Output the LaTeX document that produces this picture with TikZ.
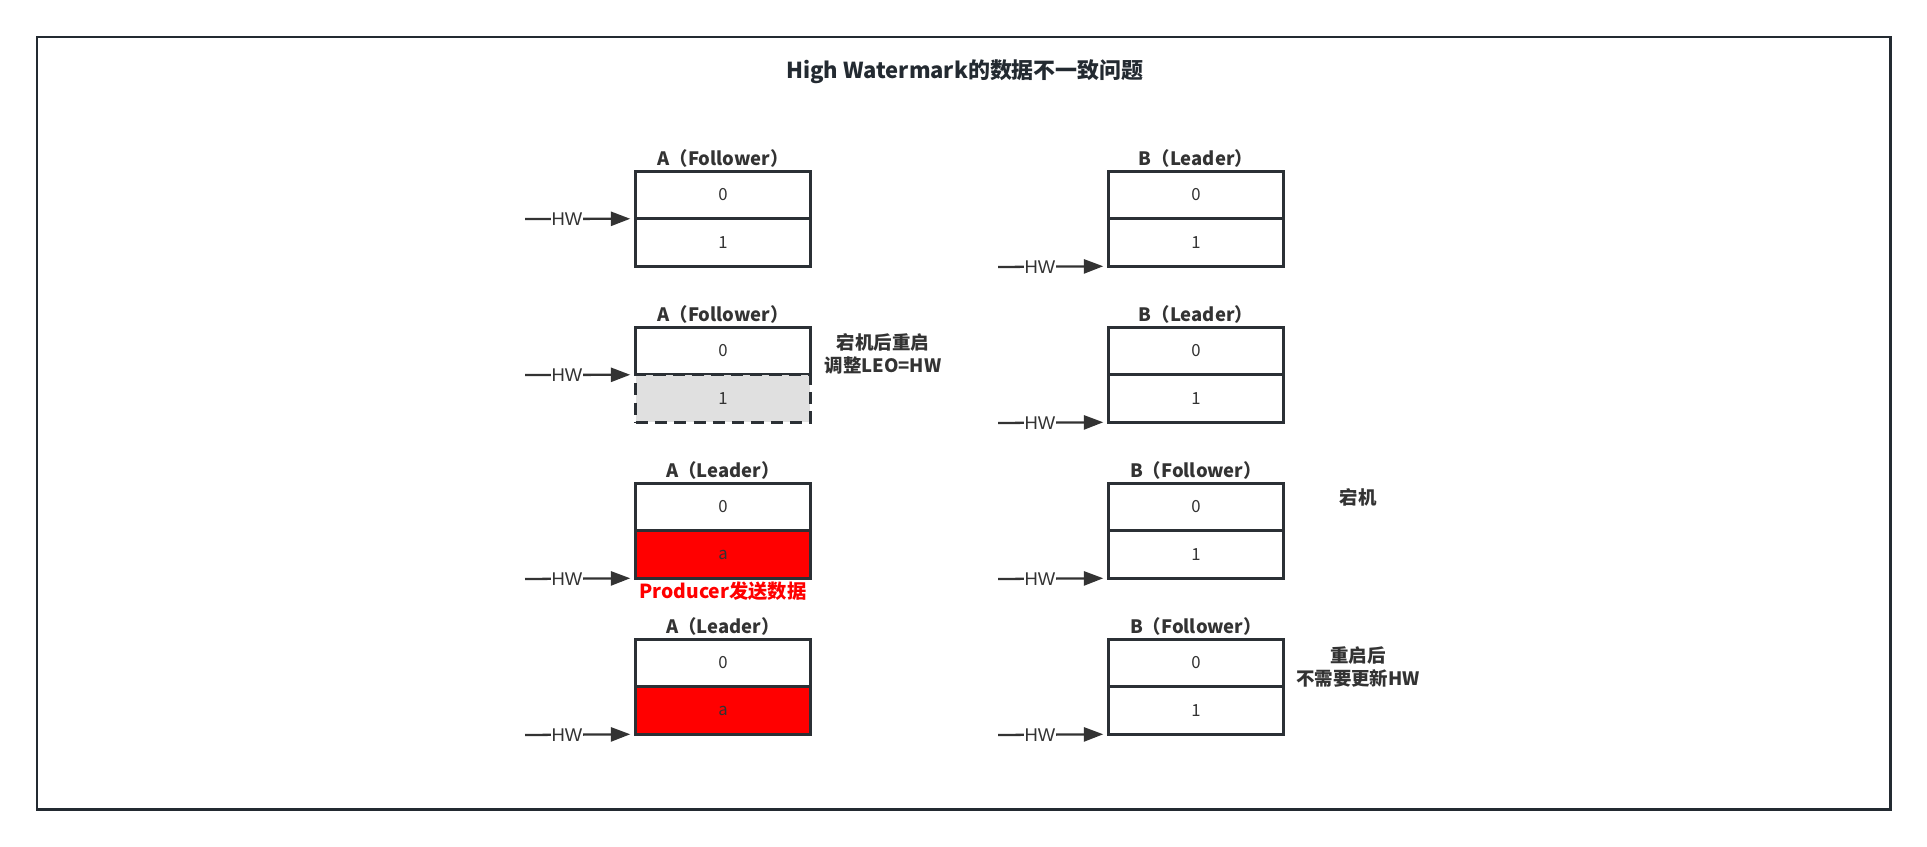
\documentclass[tikz,border=0pt]{standalone}
\usepackage{fontspec}
\setmainfont{Noto Sans CJK SC}
\newfontfamily\hwfont{Liberation Sans}
\usepackage{xcolor}
\usetikzlibrary{arrows.meta,positioning}

\definecolor{framecol}{HTML}{232A31}
\definecolor{linecol}{HTML}{2B3035}
\definecolor{textcol}{HTML}{333333}
\definecolor{deadcol}{HTML}{E0E0E0}
\definecolor{hotred}{HTML}{FF0000}

\begin{document}
\begin{tikzpicture}[x=0.02cm,y=-0.02cm,
  cell/.style={draw=linecol,line width=1.6pt,fill=white,outer sep=0pt,inner sep=0pt,
    minimum width=3.5cm,minimum height=0.95cm,font=\fontsize{9.5}{11}\selectfont,text=textcol},
  boxtitle/.style={font=\fontsize{10.5}{12}\selectfont\bfseries,text=textcol,inner sep=1pt},
  note/.style={font=\fontsize{10.5}{13.5}\selectfont\bfseries,text=textcol,align=center},
  hwline/.style={draw=textcol,line width=1.3pt,-{Triangle[length=11pt,width=8pt]},shorten >=3pt},
  hwtext/.style={fill=white,inner sep=0.5pt,font=\hwfont\fontsize{10.5}{12}\selectfont,text=textcol}]
\useasboundingbox (0,0) rectangle (1927,846);

% outer frame and title
\draw[framecol,line width=1.7pt] (37,37) rectangle (1890,809);
\node[font=\fontsize{12.5}{14}\selectfont\bfseries,text=framecol] (title) at (965,72) {High Watermark的数据不一致问题};

% A, step 1
\node[cell] (a1top) at (723,195) {0};
\node[cell,below=0pt of a1top] (a1bot) {1};
\node[boxtitle,above=1pt of a1top] (a1name) {A（Follower）};
% B, step 1
\node[cell] (b1top) at (1196,195) {0};
\node[cell,below=0pt of b1top] (b1bot) {1};
\node[boxtitle,above=1pt of b1top] (b1name) {B（Leader）};

% A, step 2
\node[cell] (a2top) at (723,351) {0};
\node[cell,below=0pt of a2top,fill=deadcol,dashed,dash pattern=on 7pt off 4pt] (a2bot) {1};
\node[boxtitle,above=1pt of a2top] (a2name) {A（Follower）};
\node[note] (a2note) at (883,354) {宕机后重启\\调整LEO=HW};
% B, step 2
\node[cell] (b2top) at (1196,351) {0};
\node[cell,below=0pt of b2top] (b2bot) {1};
\node[boxtitle,above=1pt of b2top] (b2name) {B（Leader）};

% A, step 3
\node[cell] (a3top) at (723,507) {0};
\node[cell,below=0pt of a3top,fill=hotred] (a3bot) {a};
\node[boxtitle,above=1pt of a3top] (a3name) {A（Leader）};
\node[boxtitle,text=hotred,font=\fontsize{11}{12}\selectfont\bfseries,below=1pt of a3bot] (a3note) {Producer发送数据};
% B, step 3
\node[cell] (b3top) at (1196,507) {0};
\node[cell,below=0pt of b3top] (b3bot) {1};
\node[boxtitle,above=1pt of b3top] (b3name) {B（Follower）};
\node[note] (b3note) at (1358,497) {宕机};

% A, step 4
\node[cell] (a4top) at (723,663) {0};
\node[cell,below=0pt of a4top,fill=hotred] (a4bot) {a};
\node[boxtitle,above=1pt of a4top] (a4name) {A（Leader）};
% B, step 4
\node[cell] (b4top) at (1196,663) {0};
\node[cell,below=0pt of b4top] (b4bot) {1};
\node[boxtitle,above=1pt of b4top] (b4name) {B（Follower）};
\node[note] (b4note) at (1358,667) {重启后\\不需要更新HW};

% HW pointers
\coordinate (a1hw) at (525,219);
\coordinate (a2hw) at (525,375);
\coordinate (a3hw) at (525,579);
\coordinate (a4hw) at (525,735);
\coordinate (b1hw) at (998,267);
\coordinate (b2hw) at (998,423);
\coordinate (b3hw) at (998,579);
\coordinate (b4hw) at (998,735);
\draw[hwline] (a1hw) -- node[hwtext,pos=0.38] {HW} (a1top.south west);
\draw[hwline] (a2hw) -- node[hwtext,pos=0.38] {HW} (a2top.south west);
\draw[hwline] (a3hw) -- node[hwtext,pos=0.38] {HW} (a3bot.south west);
\draw[hwline] (a4hw) -- node[hwtext,pos=0.38] {HW} (a4bot.south west);
\draw[hwline] (b1hw) -- node[hwtext,pos=0.38] {HW} (b1bot.south west);
\draw[hwline] (b2hw) -- node[hwtext,pos=0.38] {HW} (b2bot.south west);
\draw[hwline] (b3hw) -- node[hwtext,pos=0.38] {HW} (b3bot.south west);
\draw[hwline] (b4hw) -- node[hwtext,pos=0.38] {HW} (b4bot.south west);
\end{tikzpicture}
\end{document}
